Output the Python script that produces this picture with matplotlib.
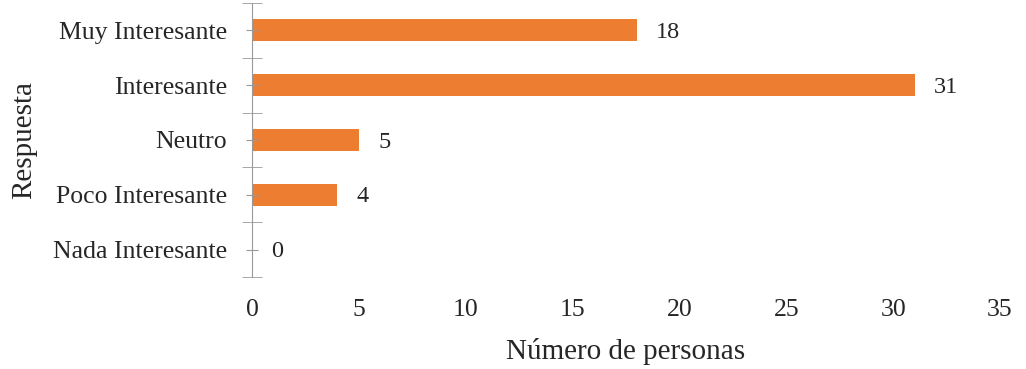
import numpy as np
import matplotlib.pyplot as plt

categorias = ["Nada Interesante", "Poco Interesante", "Neutro", "Interesante", "Muy Interesante"]
personas = [0, 4, 5, 31, 18]
xticks = [0, 5, 10, 15, 20, 25, 30, 35]

plt.rcParams['font.family'] = ['Liberation Serif', 'DejaVu Serif']
txt = '#262626'

fig = plt.figure(figsize=(10.26, 3.69), dpi=100)
ax = fig.add_axes([0.2456, 0.2493, 0.7291, 0.7427])

y = np.arange(len(categorias))
ax.barh(y, personas, height=0.4, color='#ED7D31')

for yi, v in zip(y, personas):
    ax.annotate(str(v), (v, yi), xytext=(14, -1.5), textcoords='offset points',
                va='center', ha='left', fontsize=17.5, color=txt)

ax.set_xlim(0, 35)
ax.set_ylim(-0.5, len(categorias) - 0.5)
ax.set_xticks(xticks)
ax.set_yticks(y, categorias, fontsize=18.5, color=txt)
ax.set_yticks(np.arange(-0.5, len(categorias)), minor=True)
ax.tick_params(axis='x', length=0, labelsize=18.5, labelcolor=txt, pad=16)
ax.tick_params(axis='y', which='major', direction='inout', length=8, color='#999999', pad=14)
ax.tick_params(axis='y', which='minor', direction='inout', length=15, color='#999999')

for s in ['top', 'right', 'bottom']:
    ax.spines[s].set_visible(False)
ax.spines['left'].set_color('#999999')

ax.set_xlabel("Número de personas", fontsize=21, color=txt, labelpad=12)
ax.set_ylabel("Respuesta", fontsize=21, color=txt, labelpad=11)

plt.savefig("out.png")
